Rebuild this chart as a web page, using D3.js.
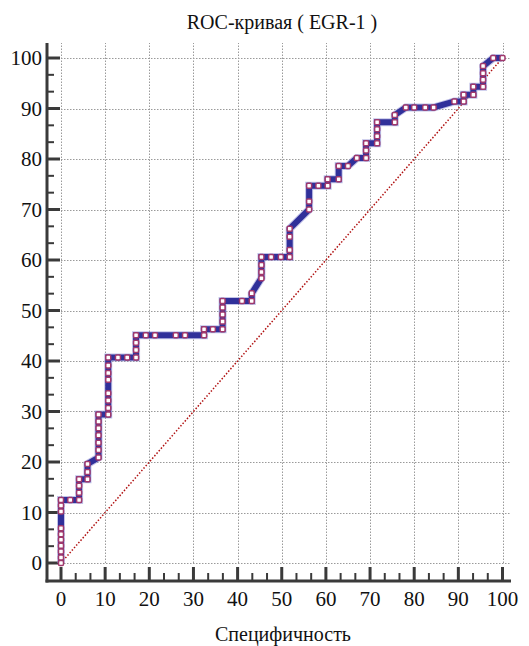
<!DOCTYPE html>
<html>
<head>
<meta charset="utf-8">
<script src="https://cdn.jsdelivr.net/npm/d3@7"></script>
<style>
  html, body { margin: 0; padding: 0; background: #fff; }
  svg { display: block; }
</style>
</head>
<body>
<div id="chart"></div>
<script>
// ROC curve for EGR-1: specificity (x) against sensitivity (y), in percent
const specificity = [
  0, 0, 0, 0, 0, 0, 0, 0, 0, 0,
  2.1, 4.1, 4.1, 4.1, 4.1, 6.0, 6.0, 6.0,
  8.5, 8.5, 8.5, 8.5, 8.5, 8.5, 8.5, 10.7, 10.7, 10.7, 10.7, 10.7, 10.7, 10.7, 10.7,
  12.9, 15.0, 17.0, 17.0, 17.0, 17.0, 19.2, 21.3, 26.0, 28.1, 32.4,
  32.4, 34.4, 36.6, 36.6, 36.6, 36.6, 36.6, 41.0, 43.2, 43.2,
  45.4, 45.4, 45.4, 45.4, 47.6, 49.8, 51.8, 51.8, 51.8, 51.8,
  56.2, 56.2, 56.2, 58.3, 60.4, 60.4, 62.9, 62.9, 65.0,
  67.0, 69.1, 69.1, 69.1, 71.6, 71.6, 71.6, 71.6, 75.6, 75.6,
  78.1, 80.0, 82.5, 84.4, 89.1, 91.2, 91.2, 93.4, 93.4, 95.6, 95.6, 95.6, 95.6, 97.9, 100
];
const sensitivity = [
  0, 1.1, 2.3, 3.4, 4.6, 5.7, 6.9, 10.2, 11.4, 12.5,
  12.5, 12.5, 13.9, 15.3, 16.6, 16.6, 18.0, 19.6,
  20.9, 22.4, 23.8, 25.3, 26.7, 28.0, 29.4, 29.4, 30.7, 32.2, 33.6, 36.3, 37.6, 39.1, 40.7,
  40.7, 40.7, 40.7, 42.2, 43.6, 45.1, 45.1, 45.1, 45.1, 45.1, 45.1,
  46.3, 46.3, 46.3, 47.8, 49.2, 50.6, 51.9, 51.9, 51.9, 53.4,
  56.4, 57.6, 59.0, 60.6, 60.6, 60.6, 60.6, 62.0, 64.6, 66.2,
  70.0, 71.6, 74.7, 74.7, 74.7, 76.0, 76.0, 78.6, 78.6,
  80.2, 80.2, 81.7, 83.1, 83.1, 84.5, 85.9, 87.3, 87.3, 88.7,
  90.2, 90.2, 90.2, 90.2, 91.4, 91.4, 92.7, 92.7, 94.3, 94.3, 95.7, 97.0, 98.4, 100, 100
];
const tickValues = [0, 10, 20, 30, 40, 50, 60, 70, 80, 90, 100];
const titleText = "ROC-кривая ( EGR-1 )";
const xLabel = "Специфичность";

const FONT = "Liberation Serif";
const W = 529, H = 646;
const svg = d3.select("#chart").append("svg").attr("width", W).attr("height", H);

const x = d3.scaleLinear().domain([0, 100]).range([61, 502.5]);
const y = d3.scaleLinear().domain([0, 100]).range([563, 58]);

const axisLeftX = 47, axisBottomY = 581;
const minorTicks = d3.range(0, 30).map(i => i * 10 / 3).filter((v, i) => i % 3 !== 0);

// grid
const grid = svg.append("g").attr("stroke", "#9a9a9a").attr("stroke-width", 1)
  .attr("stroke-dasharray", "1.5,1.5").attr("fill", "none");
grid.selectAll("line.v").data(tickValues).join("line").attr("class", "v")
  .attr("x1", d => Math.round(x(d)) + 0.5).attr("x2", d => Math.round(x(d)) + 0.5)
  .attr("y1", y(0)).attr("y2", 43);
grid.selectAll("line.h").data(tickValues).join("line").attr("class", "h")
  .attr("y1", d => Math.round(y(d)) + 0.5).attr("y2", d => Math.round(y(d)) + 0.5)
  .attr("x1", x(0)).attr("x2", 511);

// axes
const axisG = svg.append("g").attr("stroke", "#3a3a3a").attr("fill", "none");
axisG.append("line").attr("x1", axisLeftX).attr("x2", axisLeftX).attr("y1", 43).attr("y2", axisBottomY + 1.5).attr("stroke-width", 3);
axisG.append("line").attr("x1", axisLeftX - 1.5).attr("x2", 511).attr("y1", axisBottomY).attr("y2", axisBottomY).attr("stroke-width", 3);
axisG.selectAll("line.ymaj").data(tickValues).join("line").attr("class", "ymaj")
  .attr("x1", axisLeftX).attr("x2", 60).attr("y1", d => y(d)).attr("y2", d => y(d)).attr("stroke-width", 3);
axisG.selectAll("line.ymin").data(minorTicks).join("line").attr("class", "ymin")
  .attr("x1", axisLeftX).attr("x2", 54).attr("y1", d => y(d)).attr("y2", d => y(d)).attr("stroke-width", 2);
axisG.selectAll("line.xmaj").data(tickValues).join("line").attr("class", "xmaj")
  .attr("x1", d => x(d)).attr("x2", d => x(d)).attr("y1", axisBottomY).attr("y2", 567).attr("stroke-width", 3);
axisG.selectAll("line.xmin").data(minorTicks).join("line").attr("class", "xmin")
  .attr("x1", d => x(d)).attr("x2", d => x(d)).attr("y1", axisBottomY).attr("y2", 573).attr("stroke-width", 2);

// tick labels
svg.append("g").selectAll("text").data(tickValues).join("text")
  .attr("x", 42).attr("y", d => y(d) + 7).attr("text-anchor", "end")
  .attr("font-family", FONT).attr("font-size", 21).attr("fill", "#111").text(d => d);
svg.append("g").selectAll("text").data(tickValues).join("text")
  .attr("x", d => x(d)).attr("y", 606).attr("text-anchor", "middle")
  .attr("font-family", FONT).attr("font-size", 21).attr("fill", "#111").text(d => d);

// chance diagonal
svg.append("line").attr("x1", x(0)).attr("y1", y(0)).attr("x2", x(100)).attr("y2", y(100))
  .attr("stroke", "#b01010").attr("stroke-width", 1.5).attr("stroke-dasharray", "1.5,1.8");

// ROC curve
const pts = specificity.map((s, i) => [s, sensitivity[i]]);
const line = d3.line().x(d => x(d[0])).y(d => y(d[1]));
svg.append("path").datum(pts).attr("d", line).attr("fill", "none")
  .attr("stroke", "#9090d4").attr("stroke-width", 8).attr("stroke-linejoin", "miter").attr("opacity", 0.55);
svg.append("path").datum(pts).attr("d", line).attr("fill", "none")
  .attr("stroke", "#30309a").attr("stroke-width", 6).attr("stroke-linejoin", "miter");

// cut-off markers
svg.append("g").selectAll("rect").data(pts).join("rect")
  .attr("x", d => x(d[0]) - 2.5).attr("y", d => y(d[1]) - 2.5)
  .attr("width", 5).attr("height", 5).attr("rx", 1.2)
  .attr("fill", "#fff").attr("stroke", "#a0386c").attr("stroke-width", 1.5);

// titles
svg.append("text").attr("x", 282).attr("y", 29).attr("text-anchor", "middle")
  .attr("font-family", FONT).attr("font-size", 20).attr("fill", "#111").text(titleText);
svg.append("text").attr("x", 283).attr("y", 641).attr("text-anchor", "middle")
  .attr("font-family", FONT).attr("font-size", 20).attr("fill", "#111").text(xLabel);
</script>
</body>
</html>
